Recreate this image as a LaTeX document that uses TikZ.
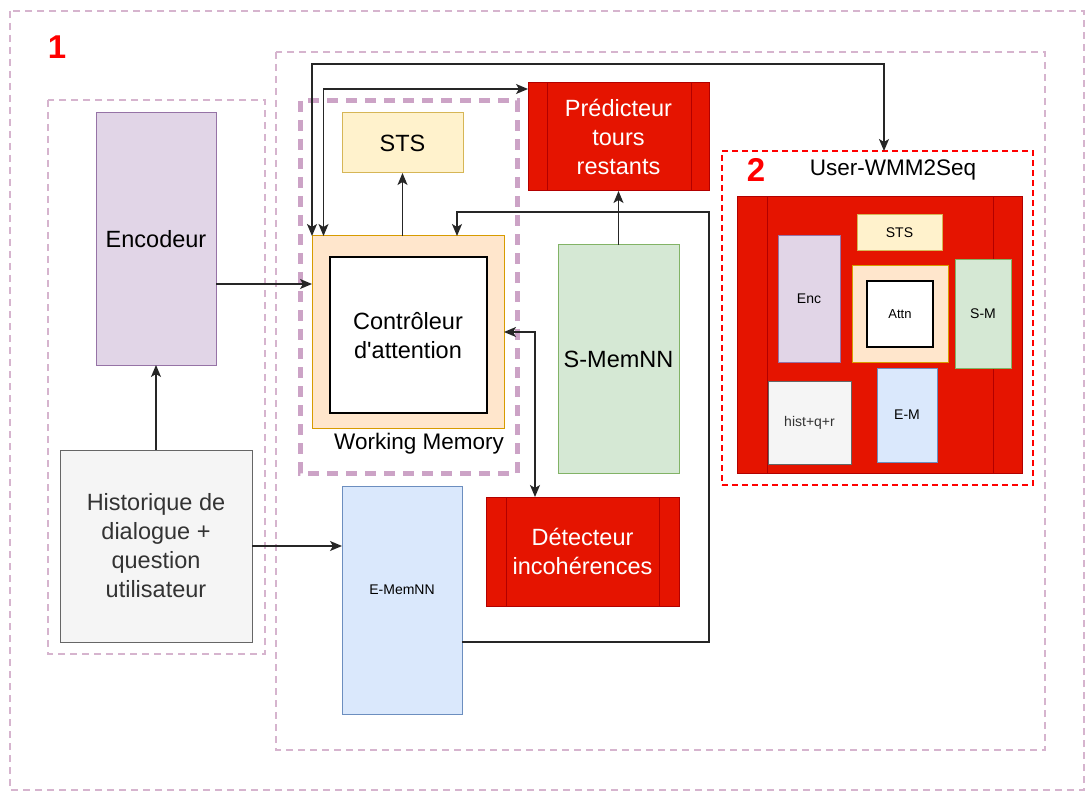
\documentclass[tikz,border=0pt]{standalone}
\usepackage{fontspec}
\setmainfont{Liberation Sans}
\usetikzlibrary{arrows.meta}
\definecolor{frameP}{RGB}{214,180,206}
\definecolor{wmP}{RGB}{204,163,198}
\definecolor{encF}{HTML}{E1D5E7}\definecolor{encD}{HTML}{9673A6}
\definecolor{histF}{HTML}{F5F5F5}\definecolor{histD}{HTML}{666666}
\definecolor{blueF}{HTML}{DAE8FC}\definecolor{blueD}{HTML}{6C8EBF}
\definecolor{greenF}{HTML}{D5E8D4}\definecolor{greenD}{HTML}{82B366}
\definecolor{yelF}{HTML}{FFF2CC}\definecolor{yelD}{HTML}{D6B656}
\definecolor{orF}{HTML}{FFE6CC}\definecolor{orD}{HTML}{D79B00}
\definecolor{redF}{HTML}{E51400}\definecolor{redD}{HTML}{B20000}
\newcommand\fsBig{\fontsize{23.5}{29}\selectfont}
\newcommand\fsWM{\fontsize{22.5}{27}\selectfont}
\newcommand\fsSmall{\fontsize{14}{17}\selectfont}
\newcommand\fsNum{\fontsize{33}{36}\selectfont\bfseries}
\tikzset{
  box/.style={draw, line width=1pt, inner sep=0pt, outer sep=0pt, align=center},
  big/.style={font=\fsBig},
  small/.style={font=\fsSmall},
  encbox/.style={box, fill=encF, draw=encD},
  histbox/.style={box, fill=histF, draw=histD, text=black!80},
  bluebox/.style={box, fill=blueF, draw=blueD},
  greenbox/.style={box, fill=greenF, draw=greenD},
  yelbox/.style={box, fill=yelF, draw=yelD},
  orbox/.style={box, fill=orF, draw=orD},
  whitebox/.style={box, fill=white, draw=black, line width=1.2pt},
  redbox/.style={box, fill=redF, draw=redD, text=white},
  redline/.style={draw=redD, line width=1pt},
  thinframe/.style={draw=frameP, line width=2pt, dash pattern=on 7pt off 5pt},
  wmframe/.style={draw=wmP, line width=5pt, dash pattern=on 11pt off 8pt},
  redframe/.style={draw=red, line width=2pt, dash pattern=on 6pt off 4pt, inner sep=0pt, outer sep=0pt},
  tip/.tip={Stealth[length=12pt,width=10pt,inset=3pt]},
  conn/.style={draw=black!85, line width=1.3pt, -tip},
  conn2/.style={draw=black!85, line width=1.3pt, tip-tip},
}
\begin{document}
\begin{tikzpicture}[x=1pt,y=-1pt]
\useasboundingbox[fill=white] (0,0) rectangle (1089,794);
% frames
\draw[thinframe] (10,11) rectangle (1084,790);
\draw[thinframe] (276,52) rectangle (1045,750);
\draw[thinframe] (48,100) rectangle (265,654);
\draw[wmframe] (300,101) rectangle (517,473);
\node[text=red, font=\fsNum] (n1) at (57,47) {1};
% left column
\node[encbox, big, minimum width=120pt, minimum height=252pt] (enc) at (156,239) {Encodeur};
\node[histbox, big, minimum width=192pt, minimum height=192pt] (hist) at (156,546) {Historique de\\dialogue +\\question\\utilisateur};
% working memory
\node[yelbox, big, minimum width=121pt, minimum height=60pt] (sts) at (402.5,143) {STS};
\node[orbox, minimum width=192pt, minimum height=192pt] (ctrl) at (408,332) {};
\node[whitebox, minimum width=157pt, minimum height=156pt] (ctrlin) at (408.5,335) {};
\node[big, align=center] (ctrltxt) at (408,336) {Contrôleur\\d\textquotesingle attention};
\node[font=\fsWM] (wmtxt) at (419,444) {Working Memory};
% other modules
\node[redbox, big, minimum width=181pt, minimum height=108pt] (pred) at (618.5,137) {Prédicteur\\tours\\restants};
\draw[redline] ([xshift=19pt]pred.north west) -- ([xshift=19pt]pred.south west);
\draw[redline] ([xshift=-18pt]pred.north east) -- ([xshift=-18pt]pred.south east);
\node[greenbox, big, minimum width=121pt, minimum height=228pt] (smem) at (618.5,359) {S-MemNN};
\node[redbox, big, minimum width=193pt, minimum height=109pt] (det) at (582.5,551.5) {Détecteur\\incohérences};
\draw[redline] ([xshift=20pt]det.north west) -- ([xshift=20pt]det.south west);
\draw[redline] ([xshift=-20pt]det.north east) -- ([xshift=-20pt]det.south east);
\node[bluebox, minimum width=120pt, minimum height=228pt] (emem) at (402,600) {};
\node[small] (ememtxt) at (402,590) {E-MemNN};
% group 2
\node[redframe, minimum width=311pt, minimum height=334pt] (grp) at (877.5,318) {};
\node[text=red, font=\fsNum] (n2) at (756,170) {2};
\node[font=\fsWM] (grptitle) at (893,170) {User-WMM2Seq};
\node[redbox, minimum width=285pt, minimum height=276pt] (wmm) at (879.5,335) {};
\draw[redline] ([xshift=30pt]wmm.north west) -- ([xshift=30pt]wmm.south west);
\draw[redline] ([xshift=-29pt]wmm.north east) -- ([xshift=-29pt]wmm.south east);
\node[yelbox, small, minimum width=85pt, minimum height=36pt] (ssts) at (899.5,233) {STS};
\node[encbox, small, minimum width=62pt, minimum height=126pt] (senc) at (809,299) {Enc};
\node[orbox, minimum width=96pt, minimum height=96pt] (satt) at (900,314) {};
\node[whitebox, font=\fontsize{13}{15}\selectfont, minimum width=66pt, minimum height=66pt] (sattin) at (900,314) {Attn};
\node[greenbox, small, minimum width=56pt, minimum height=108pt] (ssm) at (983,314) {S-M};
\node[histbox, small, minimum width=83pt, minimum height=83pt] (shist) at (809.5,422.5) {hist+q+r};
\node[bluebox, small, minimum width=60pt, minimum height=94pt] (sem) at (907,415) {E-M};
% connectors
\coordinate (topA) at (884,64);
\coordinate (loopR) at (709,212);
\draw[conn] (hist.north) -- (enc.south);
\draw[conn] ([yshift=-45pt]enc.east) -- ([yshift=-45pt]enc.east -| ctrl.west);
\draw[conn] (hist.east) -- (hist.east -| emem.west);
\draw[conn] (sts.south |- ctrl.north) -- (sts.south);
\draw[conn] (smem.north) -- (pred.south);
\draw[conn2] (ctrl.east) -| ([xshift=-47.5pt]det.north);
\draw[conn] ([yshift=-42pt]emem.east) -| (loopR) -| ([xshift=49pt]ctrl.north);
\draw[conn2] (ctrl.north west) |- (topA) -- ([xshift=6.5pt]grp.north);
\draw[conn2] ([xshift=11.5pt]ctrl.north west) |- ([yshift=48pt]pred.west);
\end{tikzpicture}
\end{document}
